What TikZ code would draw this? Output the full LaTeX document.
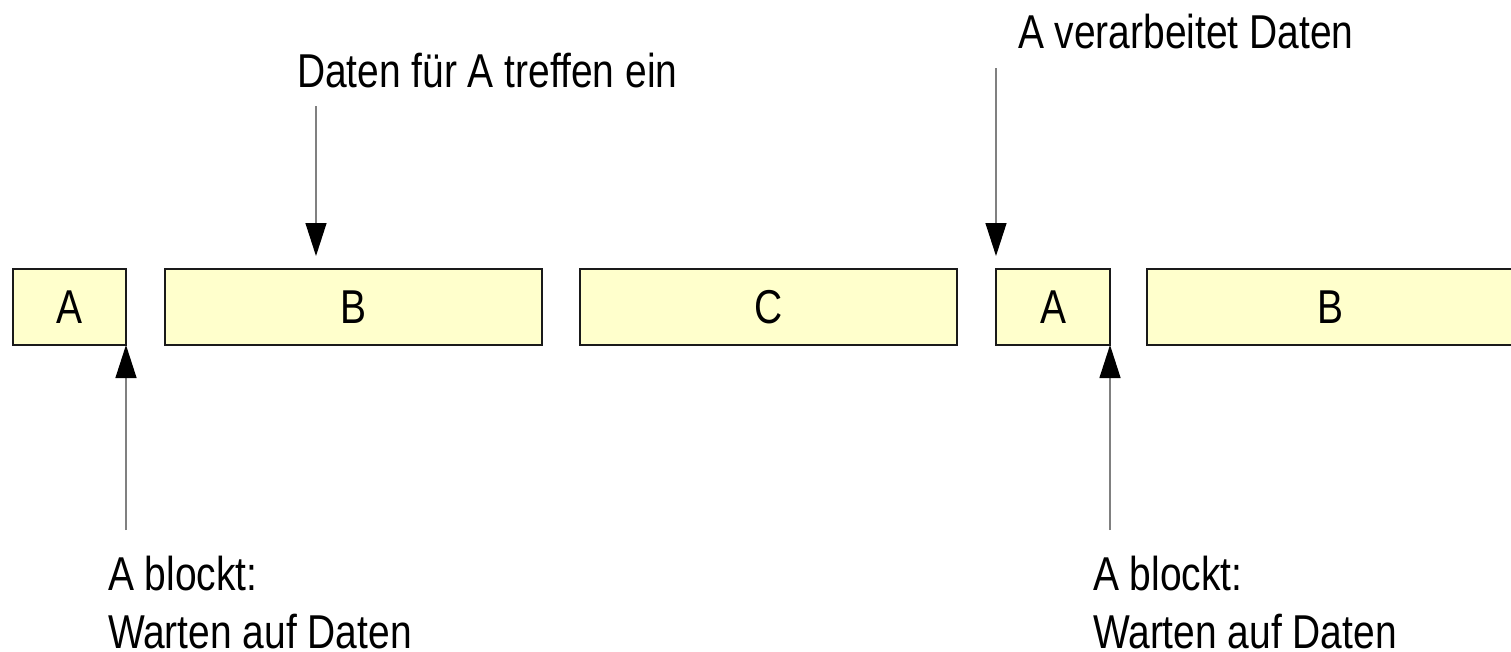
\documentclass[tikz,border=0pt]{standalone}
\usepackage{fontspec}
\setmainfont{Liberation Sans}
\newfontfamily\nar[FakeStretch=0.82]{Liberation Sans}
\usetikzlibrary{arrows.meta}
\definecolor{boxfill}{HTML}{FFFFCC}
\definecolor{boxline}{HTML}{1A1A1A}
\definecolor{arrline}{HTML}{808080}
\begin{document}
\begin{tikzpicture}[x=1pt,y=-1pt,
  every node/.style={font=\nar\fontsize{47.5}{57}\selectfont, inner sep=0pt, outer sep=0pt},
  slot/.style={draw=boxline, fill=boxfill, line width=1.5pt, minimum height=76pt, anchor=north west},
  lbl/.style={anchor=base west},
  ptr/.style={draw=arrline, line width=1.3pt, -{Triangle[width=21pt,length=33pt,color=black,fill=black]}}]
\useasboundingbox (0,0) rectangle (1511,651);
\fill[white] (0,0) rectangle (1511,651);
% time slots
\node[slot, minimum width=113pt] (a1) at (13,269) {A};
\node[slot, minimum width=377pt] (b1) at (165,269) {B};
\node[slot, minimum width=377pt] (c1) at (580,269) {C};
\node[slot, minimum width=114pt] (a2) at (996,269) {A};
\node[slot, minimum width=367pt] (b2) at (1147,269) {B};
% labels
\node[lbl] (t1) at (297,87) {Daten für A treffen ein};
\node[lbl] (t2) at (1018,48) {A verarbeitet Daten};
\node[lbl] (t3a) at (108,590) {A blockt:};
\node[lbl] (t3b) at (108,648) {Warten auf Daten};
\node[lbl] (t4a) at (1093,590) {A blockt:};
\node[lbl] (t4b) at (1093,648) {Warten auf Daten};
% arrow start points
\coordinate (s1) at (316,106);
\coordinate (s2) at (996,68);
\coordinate (s3) at (126,530);
\coordinate (s4) at (1110,530);
\draw[ptr, shorten >=13pt] (s1) -- (s1 |- b1.north);
\draw[ptr, shorten >=13pt] (s2) -- (a2.north west);
\draw[ptr] (s3) -- (a1.south east);
\draw[ptr] (s4) -- (a2.south east);
\end{tikzpicture}
\end{document}
